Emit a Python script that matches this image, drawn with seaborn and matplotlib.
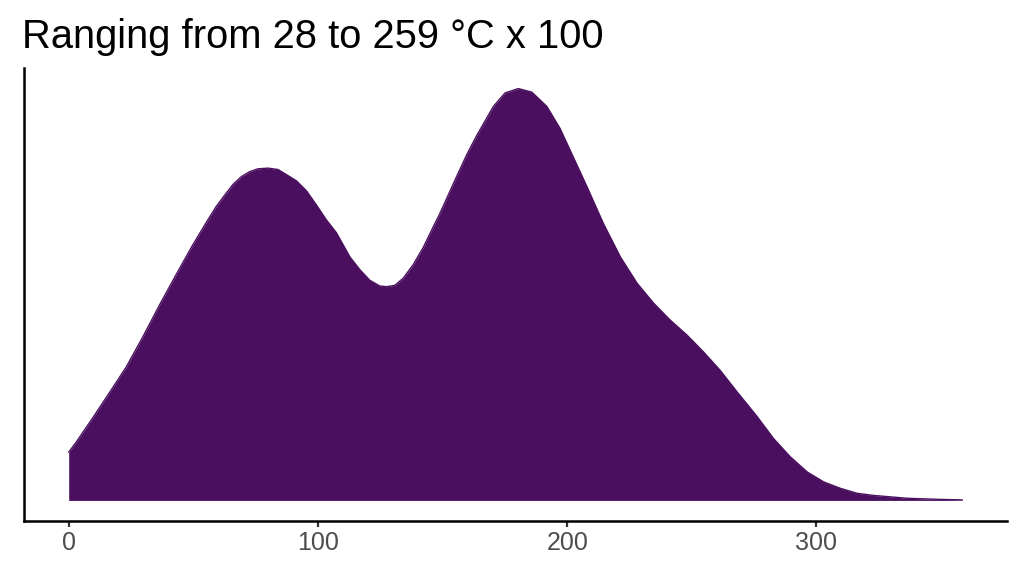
import numpy as np
import pandas as pd
import matplotlib
matplotlib.use("Agg")
import matplotlib.pyplot as plt
import seaborn as sns

# density curve (x in units, density x 1e-3)
temp = [0.0, 3.0, 6.3, 9.6, 13.0, 16.4, 23.1, 29.7, 36.4, 43.1, 49.8, 55.8, 59.2,
        62.6, 65.9, 69.3, 72.6, 75.9, 80.0, 84.0, 87.3, 91.4, 95.4, 99.4, 103.4,
        107.4, 112.8, 116.8, 120.8, 124.8, 127.6, 130.9, 134.2, 138.2, 142.2,
        146.2, 148.9, 155.6, 159.7, 163.7, 170.4, 175.1, 180.4, 185.8, 191.8,
        197.1, 202.5, 207.9, 214.5, 221.3, 228.0, 234.6, 241.3, 248.0, 254.7,
        261.4, 268.1, 276.2, 282.8, 289.6, 296.3, 302.9, 309.6, 316.3, 323.0,
        336.4, 349.8, 358.5]
density = [0.68, 0.82, 0.99, 1.16, 1.34, 1.52, 1.88, 2.30, 2.75, 3.18, 3.60, 3.95, 4.14,
           4.30, 4.45, 4.56, 4.63, 4.67, 4.68, 4.66, 4.59, 4.50, 4.36, 4.16, 3.95,
           3.77, 3.43, 3.25, 3.10, 3.02, 3.01, 3.03, 3.13, 3.32, 3.56,
           3.85, 4.04, 4.56, 4.87, 5.14, 5.55, 5.74, 5.80, 5.75, 5.55,
           5.24, 4.83, 4.42, 3.90, 3.43, 3.06, 2.78, 2.54, 2.33, 2.09,
           1.83, 1.53, 1.18, 0.87, 0.61, 0.40, 0.26, 0.17, 0.10, 0.07,
           0.03, 0.014, 0.007]
x_ticks = [0, 100, 200, 300]
title = "Ranging from 28 to 259 °C x 100"

fill_color = "#4A105F"

df = pd.DataFrame({"temp": temp, "density": density})

sns.set_theme(style="white")
plt.rcParams["font.family"] = ["Liberation Sans", "DejaVu Sans"]

fig = plt.figure(figsize=(10.24, 5.76), dpi=100)
ax = fig.add_axes([24 / 1024, 1 - 521 / 576, (1007 - 24) / 1024, (521 - 68) / 576])

ax.fill_between(df["temp"], 0, df["density"], color=fill_color, linewidth=0)
sns.lineplot(data=df, x="temp", y="density", ax=ax, color=fill_color,
             linewidth=1.0, solid_joinstyle="round")

# ggplot-style 5% expansion
xr = df["temp"].max() - df["temp"].min()
ax.set_xlim(df["temp"].min() - 0.05 * xr, df["temp"].max() + 0.05 * xr)
yr = df["density"].max()
ax.set_ylim(-0.05 * yr, yr * 1.05)

ax.set_xticks(x_ticks)
ax.set_xticklabels([str(t) for t in x_ticks])
ax.set_yticks([])
ax.set_xlabel("")
ax.set_ylabel("")

for side in ["top", "right"]:
    ax.spines[side].set_visible(False)
for side in ["left", "bottom"]:
    ax.spines[side].set_color("black")
    ax.spines[side].set_linewidth(1.8)

ax.tick_params(axis="x", bottom=True, length=4, width=1.6, color="#333333",
               pad=3.5, labelsize=18, labelcolor="#4D4D4D")

fig.text(22.5 / 1024, 1 - 48.3 / 576, title, fontsize=28.7, color="black",
         ha="left", va="baseline")

fig.savefig("out.png", dpi=100, facecolor="white")
